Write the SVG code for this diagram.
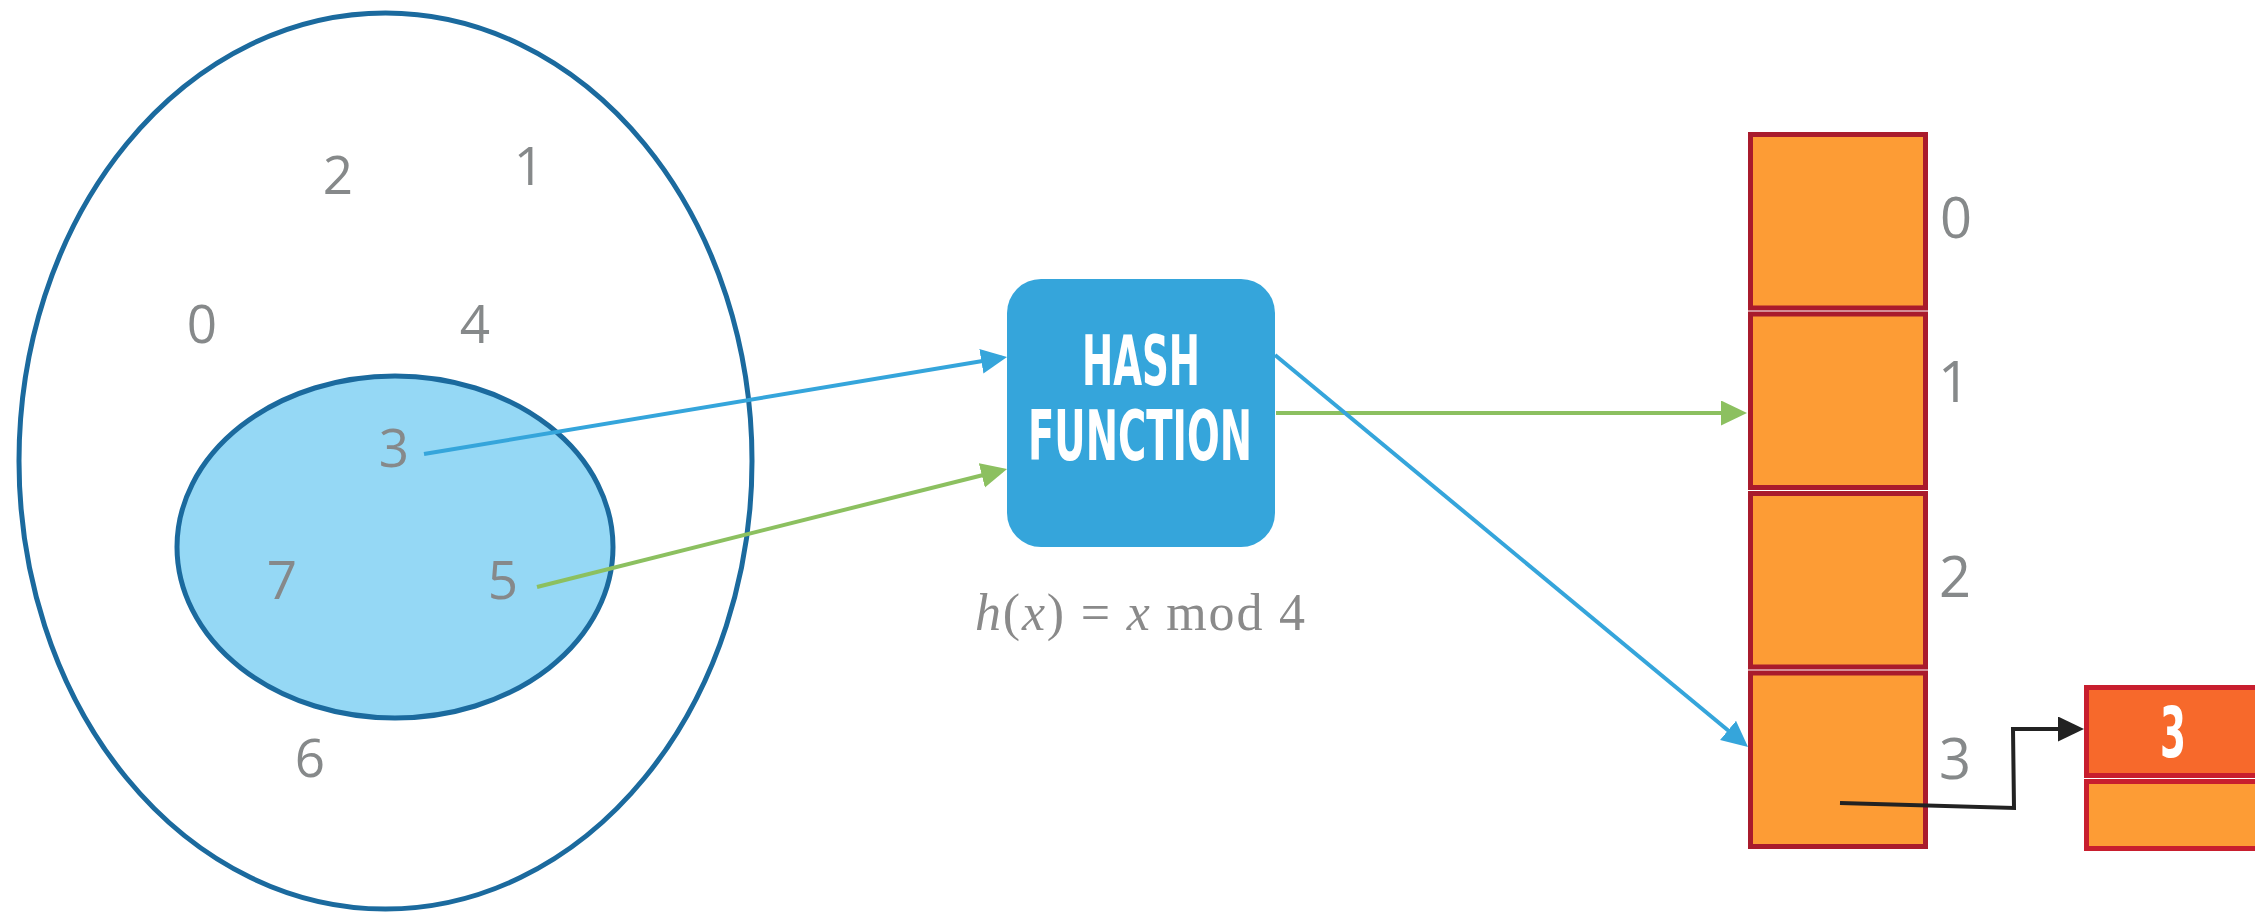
<svg xmlns="http://www.w3.org/2000/svg" width="2255" height="912" viewBox="0 0 2255 912">
  <style>
    .num { font-family: "Open Sans", "Liberation Sans", sans-serif; font-size: 53px; fill: #86898A; text-anchor: middle; }
    .idx { font-family: "Open Sans", "Liberation Sans", sans-serif; font-size: 56px; fill: #86898A; text-anchor: middle; }
    .cond { font-family: "Liberation Sans Narrow", "DejaVu Sans Condensed", "Liberation Sans", sans-serif; font-weight: bold; font-size: 70px; fill: #FFFFFF; text-anchor: middle; }
    .math { font-family: "Liberation Serif", "DejaVu Serif", serif; font-size: 52px; fill: #8A8A8A; }
    .cell { fill: #FD9C35; stroke: #A91B2C; stroke-width: 5; }
    .conn { fill: none; stroke-width: 4; }
  </style>
  <defs>
    <marker id="ahBlue" markerUnits="userSpaceOnUse" markerWidth="26" markerHeight="26" refX="21" refY="12.5" orient="auto">
      <path d="M0,0 L26,12.5 L0,25 z" fill="#35A5DB"/>
    </marker>
    <marker id="ahGreen" markerUnits="userSpaceOnUse" markerWidth="26" markerHeight="26" refX="21" refY="12.5" orient="auto">
      <path d="M0,0 L26,12.5 L0,25 z" fill="#8CC060"/>
    </marker>
    <marker id="ahBlack" markerUnits="userSpaceOnUse" markerWidth="26" markerHeight="26" refX="21" refY="12.5" orient="auto">
      <path d="M0,0 L26,12.5 L0,25 z" fill="#222222"/>
    </marker>
  </defs>

  <rect x="0" y="0" width="2255" height="912" fill="#FFFFFF"/>

  <g id="universe">
    <ellipse cx="385.5" cy="461" rx="366.5" ry="448" fill="none" stroke="#1B6A9E" stroke-width="5"/>
    <text class="num" x="338" y="194">2</text>
    <text class="num" x="529" y="185">1</text>
    <text class="num" x="202" y="343">0</text>
    <text class="num" x="475" y="343">4</text>
    <text class="num" x="310" y="777">6</text>
  </g>

  <g id="keys">
    <ellipse cx="395" cy="547" rx="218" ry="171" fill="#95D8F5" stroke="#1B6A9E" stroke-width="5"/>
    <text class="num" x="394" y="467">3</text>
    <text class="num" x="282" y="599">7</text>
    <text class="num" x="503" y="599">5</text>
  </g>

  <g id="hash-function">
    <rect x="1007" y="279" width="268" height="268" rx="34" ry="34" fill="#35A5DB"/>
    <text class="cond" x="1141" y="385" textLength="118" lengthAdjust="spacingAndGlyphs">HASH</text>
    <text class="cond" x="1140" y="460" textLength="224" lengthAdjust="spacingAndGlyphs">FUNCTION</text>
    <text class="math" x="975" y="630" textLength="330" lengthAdjust="spacing"><tspan font-style="italic">h</tspan>(<tspan font-style="italic">x</tspan>) = <tspan font-style="italic">x</tspan>  mod 4</text>
  </g>

  <g id="hash-table">
    <rect class="cell" x="1750.5" y="134.5" width="175" height="173.5"/>
    <rect class="cell" x="1750.5" y="314" width="175" height="173.5"/>
    <rect class="cell" x="1750.5" y="493.5" width="175" height="173.5"/>
    <rect class="cell" x="1750.5" y="673" width="175" height="173.5"/>
    <text class="idx" x="1956" y="238">0</text>
    <text class="idx" x="1954" y="402">1</text>
    <text class="idx" x="1955" y="597">2</text>
    <text class="idx" x="1955" y="779">3</text>
  </g>

  <g id="list-node">
    <rect x="2086.5" y="687.5" width="180" height="88" fill="#F7692B" stroke="#C81E2E" stroke-width="5"/>
    <rect x="2086.5" y="781.5" width="180" height="67" fill="#FD9C35" stroke="#C81E2E" stroke-width="5"/>
    <text class="cond" x="2173" y="757" font-size="74" textLength="26" lengthAdjust="spacingAndGlyphs">3</text>
  </g>

  <g id="connectors">
    <line class="conn" x1="424" y1="454" x2="1002.1" y2="357.8" stroke="#35A5DB" marker-end="url(#ahBlue)"/>
    <line class="conn" x1="537" y1="587" x2="1002.2" y2="470.2" stroke="#8CC060" marker-end="url(#ahGreen)"/>
    <line class="conn" x1="1276" y1="413" x2="1742" y2="413" stroke="#8CC060" marker-end="url(#ahGreen)"/>
    <line class="conn" x1="1275" y1="355" x2="1744.2" y2="743.8" stroke="#35A5DB" marker-end="url(#ahBlue)"/>
    <polyline class="conn" points="1840,803 2014,808 2013,729 2079,729" stroke="#222222" stroke-width="5" marker-end="url(#ahBlack)"/>
  </g>
</svg>
